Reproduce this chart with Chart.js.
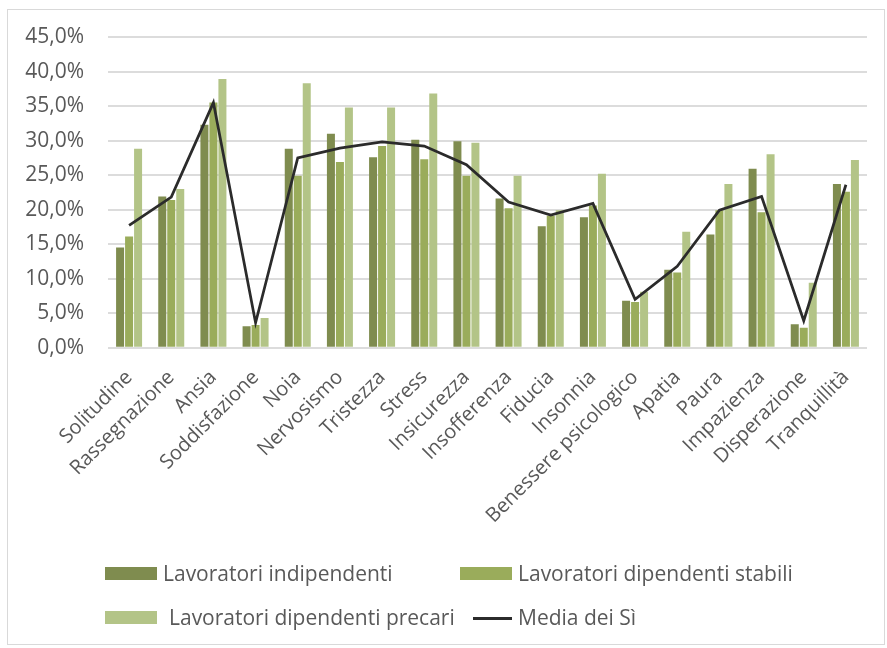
<!DOCTYPE html>
<html>
<head>
<meta charset="utf-8">
<script src="https://cdn.jsdelivr.net/npm/chart.js@4/dist/chart.umd.min.js"></script>
<style>
  body { margin: 0; background: #fff; }
  #wrap { position: relative; width: 887px; height: 648px; overflow: hidden; }
  #frame { position: absolute; left: 7px; top: 9px; width: 878px; height: 636px; border: 1px solid #d9d9d9; box-sizing: border-box; }
  #myChart { position: absolute; left: 0; top: 0; }
  .leg { position: absolute; font: 21px "Open Sans", sans-serif; color: #595959; white-space: nowrap; line-height: 26px; }
  .sw { position: absolute; }
</style>
</head>
<body>
<div id="wrap">
  <div id="frame"></div>
  <canvas id="myChart" width="887" height="648"></canvas>
  <div id="legend"></div>
</div>
<script>
// Data
const categories = ['Solitudine', 'Rassegnazione', 'Ansia', 'Soddisfazione', 'Noia', 'Nervosismo',
    'Tristezza', 'Stress', 'Insicurezza', 'Insofferenza', 'Fiducia', 'Insonnia',
    'Benessere psicologico', 'Apatia', 'Paura', 'Impazienza', 'Disperazione', 'Tranquillità'];

const indipendenti = [14.5, 21.9, 32.3, 3.1, 28.8, 31.0, 27.6, 30.1, 29.9, 21.6, 17.6, 18.9, 6.8, 11.3, 16.4, 25.9, 3.4, 23.7];
const stabili      = [16.1, 21.4, 35.5, 3.3, 24.9, 26.9, 29.2, 27.3, 24.9, 20.2, 19.1, 20.6, 6.6, 10.9, 19.9, 19.6, 2.9, 22.6];
const precari      = [28.8, 23.0, 38.9, 4.3, 38.3, 34.8, 34.8, 36.8, 29.7, 24.9, 19.9, 25.2, 8.1, 16.8, 23.7, 28.0, 9.4, 27.2];
const mediaSi      = [17.7, 21.8, 35.5, 3.6, 27.5, 28.9, 29.8, 29.2, 26.5, 21.1, 19.2, 20.9, 7.0, 11.8, 19.9, 21.9, 3.9, 23.6];

const yTicks = [0, 5, 10, 15, 20, 25, 30, 35, 40, 45];

const COLORS = {
    dark: '#7f8c4f',
    mid: '#9aac5b',
    light: '#b3c487',
    line: '#2b2b2b',
    text: '#595959',
    grid: '#dcdcdc',
};

const FONT_Y = { family: '"Open Sans", sans-serif', size: 21 };
const FONT_X = { family: '"Open Sans", sans-serif', size: 20 };

function fmt(v) {
    return v.toFixed(1).replace('.', ',') + '%';
}

// Config
const barOpts = { barPercentage: 0.89, categoryPercentage: 0.64, borderWidth: 0, order: 1 };

const data = {
    labels: categories,
    datasets: [
        { type: 'line', label: 'Media dei Sì', data: mediaSi, borderColor: COLORS.line, borderWidth: 2.75,
          pointRadius: 0, fill: false, tension: 0, order: 0 },
        Object.assign({ type: 'bar', label: 'Lavoratori indipendenti', data: indipendenti, backgroundColor: COLORS.dark }, barOpts),
        Object.assign({ type: 'bar', label: 'Lavoratori dipendenti stabili', data: stabili, backgroundColor: COLORS.mid }, barOpts),
        Object.assign({ type: 'bar', label: 'Lavoratori dipendenti precari', data: precari, backgroundColor: COLORS.light }, barOpts),
    ]
};

const config = {
    data: data,
    options: {
        responsive: false,
        animation: false,
        layout: { padding: { left: 22, right: 20, top: 37, bottom: 102 } },
        plugins: {
            legend: { display: false },
            tooltip: { enabled: false }
        },
        scales: {
            x: {
                // rotated labels may hang past the plot edge, as in the original
                afterFit(axis) { axis.paddingLeft = 0; axis.paddingRight = 0; },
                grid: { display: false, drawTicks: false },
                border: { display: false },
                ticks: { autoSkip: false, minRotation: 45, maxRotation: 45, color: COLORS.text, font: FONT_X, padding: 18 }
            },
            y: {
                min: 0, max: 45,
                afterBuildTicks(axis) { axis.ticks = yTicks.map(v => ({ value: v })); },
                afterFit(axis) { axis.width = 86; },
                grid: { color: COLORS.grid, lineWidth: 2, drawTicks: false },
                border: { display: false },
                ticks: { color: COLORS.text, font: FONT_Y, padding: 24, callback: v => fmt(v) }
            }
        }
    }
};

const myChart = new Chart(document.getElementById('myChart'), config);

// Legend (two columns, Excel style)
const legendItems = [
    { ds: 1, x: 105, y: 574, tx: 163 },
    { ds: 2, x: 460, y: 574, tx: 518 },
    { ds: 3, x: 105, y: 618, tx: 169 },
    { ds: 0, x: 473, y: 618, tx: 518 },
];
const legend = document.getElementById('legend');
legendItems.forEach(it => {
    const ds = data.datasets[it.ds];
    const sw = document.createElement('div');
    sw.className = 'sw';
    if (ds.type === 'line') {
        sw.style.cssText = `left:${it.x}px;top:${it.y - 1.5}px;width:39px;height:3px;background:${ds.borderColor}`;
    } else {
        sw.style.cssText = `left:${it.x}px;top:${it.y - 7}px;width:52px;height:13px;background:${ds.backgroundColor}`;
    }
    legend.appendChild(sw);
    const t = document.createElement('div');
    t.className = 'leg';
    t.style.left = it.tx + 'px';
    t.style.top = (it.y - 14) + 'px';
    t.textContent = ds.label;
    legend.appendChild(t);
});
</script>
</body>
</html>
